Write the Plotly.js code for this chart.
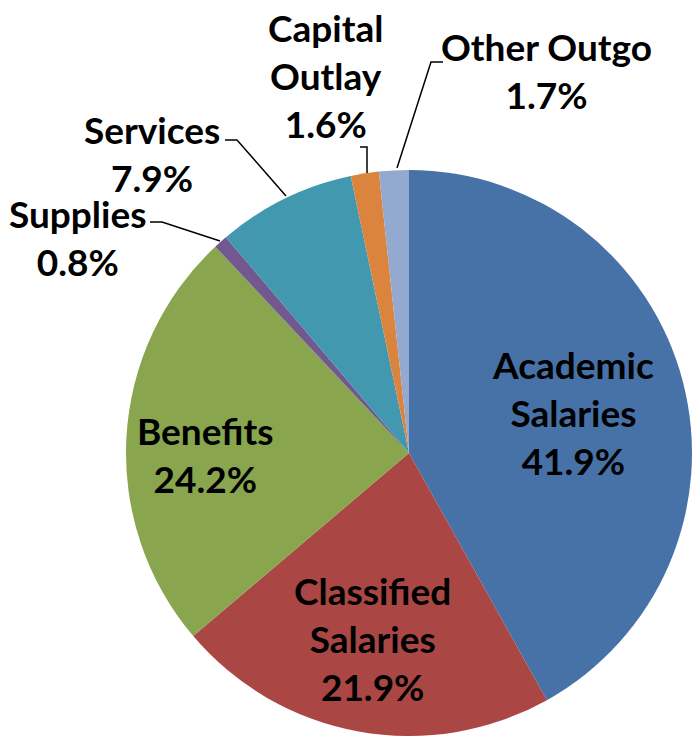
<!DOCTYPE html>
<html>
<head>
<meta charset="utf-8">
<script src="https://cdn.plot.ly/plotly-3.0.1.min.js"></script>
<style>html,body{margin:0;padding:0;background:#fff;}#chart{width:693px;height:736px;}</style>
</head>
<body>
<div id="chart"></div>
<script>
const categories = ["Academic Salaries", "Classified Salaries", "Benefits", "Supplies", "Services", "Capital Outlay", "Other Outgo"];
const values = [41.9, 21.9, 24.2, 0.8, 7.9, 1.6, 1.7];
const colors = ["#4672A7", "#AA4744", "#89A54E", "#71588F", "#4298AF", "#DB843D", "#93A9CF"];
const labelLines = [["Academic", "Salaries"], ["Classified", "Salaries"], ["Benefits"], ["Supplies"], ["Services"], ["Capital", "Outlay"], ["Other Outgo"]];

// label placement in pixel coords (layout only)
const labelPos = [[573, 412], [372, 638], [205, 454], [77, 237], [152, 153], [325, 75], [546, 70]];
const leaders = [null, null, null,
  [[220, 241], [162, 222], [150, 222]],
  [[286, 196], [237, 140], [225, 140]],
  [[367, 173], [367, 147], [360, 147]],
  [[397, 168], [431, 62], [443, 62]]];

const W = 693, H = 736;
const font = {family: "Lato, 'Open Sans', sans-serif", size: 37, color: "#000"};

const annotations = categories.map((c, i) => ({
  xref: "x", yref: "y", x: labelPos[i][0], y: labelPos[i][1],
  text: labelLines[i].map(s => "<b>" + s + "</b>").join("<br>") + "<br><b>" + values[i].toFixed(1) + "%</b>",
  showarrow: false, xanchor: "center", yanchor: "middle", align: "center", font: font
}));

const shapes = [];
leaders.forEach(l => {
  if (!l) return;
  shapes.push({type: "path", xref: "x", yref: "y", layer: "above",
    path: "M" + l.map(p => p[0] + "," + p[1]).join(" L"),
    line: {color: "#000", width: 1.5}});
});

const trace = {
  type: "pie", labels: categories, values: values, sort: false, direction: "clockwise", rotation: 0,
  marker: {colors: colors, line: {width: 0}}, textinfo: "none", hoverinfo: "none",
  domain: {x: [125 / W, 1], y: [0, 1 - 170 / H]}, showlegend: false
};
const dummy = {type: "scatter", x: [], y: [], showlegend: false, hoverinfo: "skip"};

Plotly.newPlot("chart", [trace, dummy], {
  width: W, height: H, margin: {l: 0, r: 0, t: 0, b: 0},
  paper_bgcolor: "#fff", plot_bgcolor: "rgba(0,0,0,0)",
  xaxis: {range: [0, W], visible: false, fixedrange: true},
  yaxis: {range: [H, 0], visible: false, fixedrange: true},
  annotations: annotations, shapes: shapes, showlegend: false
}, {staticPlot: true});
</script>
</body>
</html>
